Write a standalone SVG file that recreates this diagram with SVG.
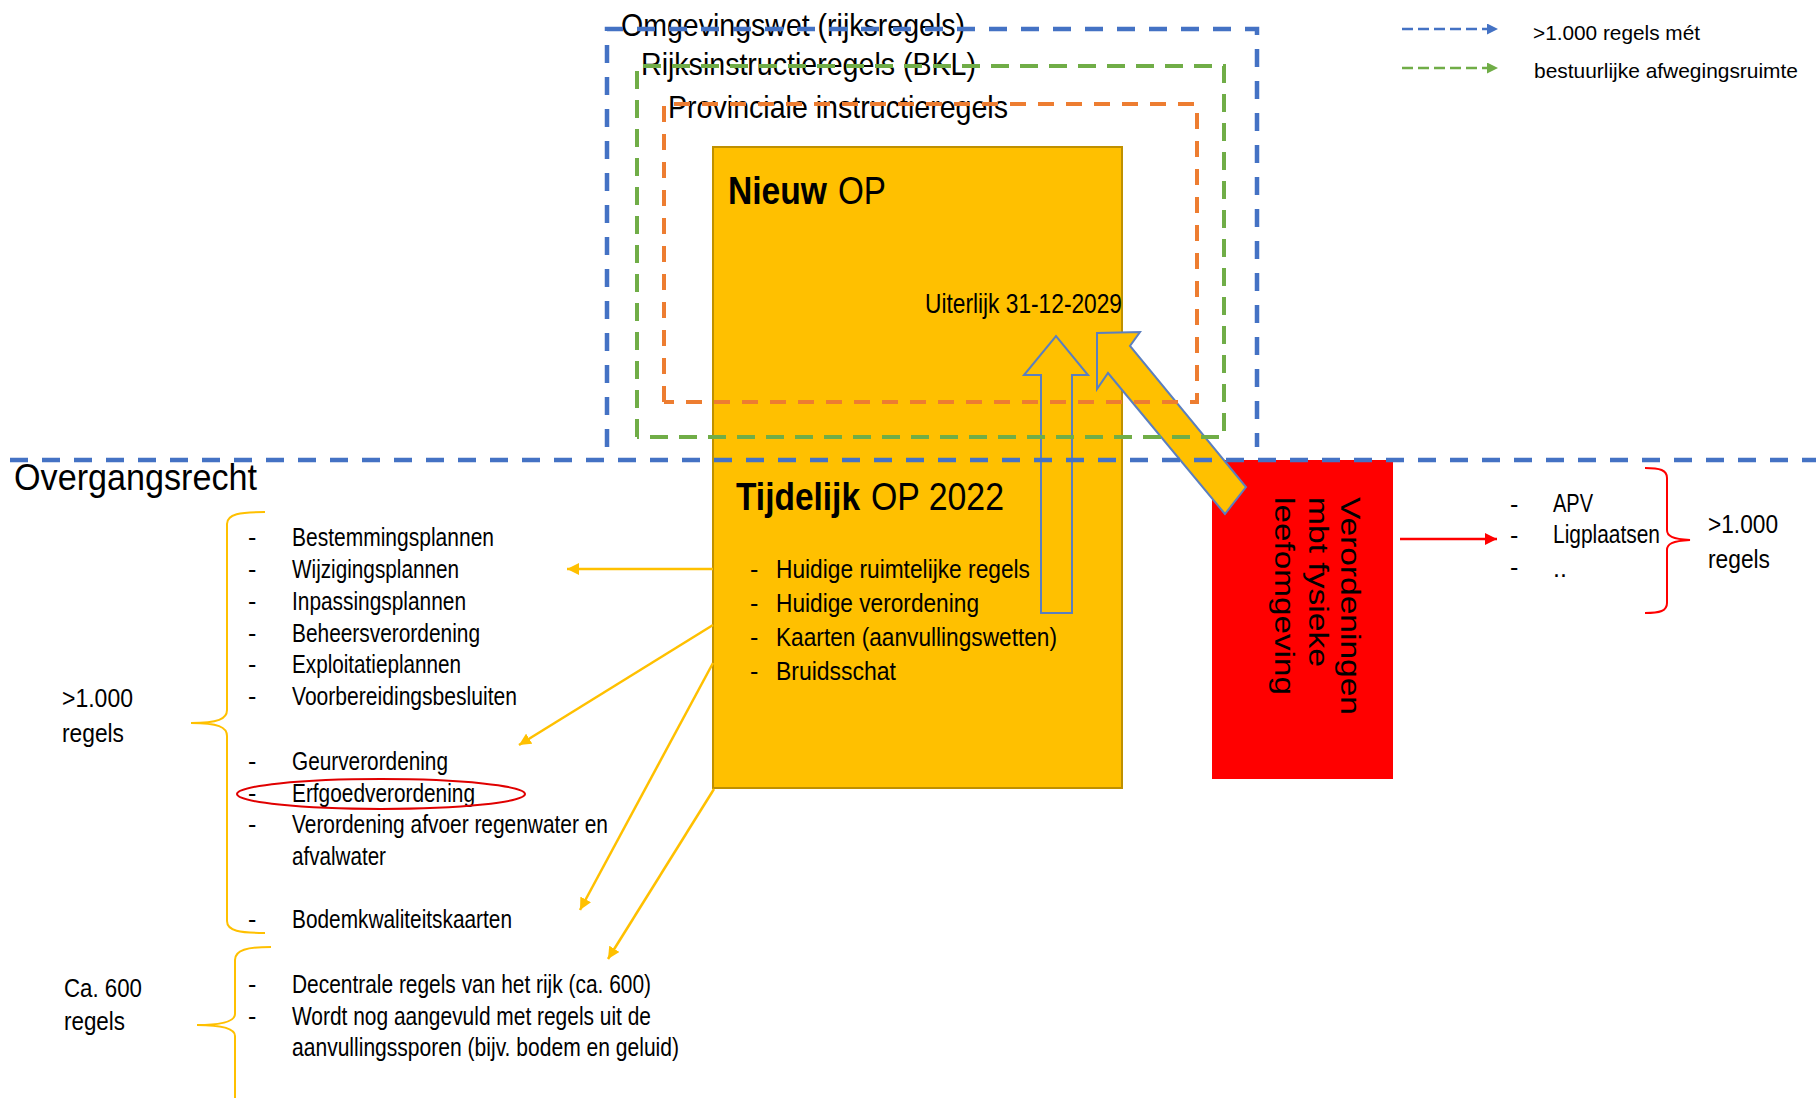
<svg xmlns="http://www.w3.org/2000/svg" width="1816" height="1098" viewBox="0 0 1816 1098">
<style>
.t{font-family:"Liberation Sans",Arial,Helvetica,sans-serif;fill:#000}
.s21{font-size:21px}.s25{font-size:25px}.s27{font-size:27px}.s28{font-size:28px}.s32{font-size:32px}.s36{font-size:36px}.s38{font-size:38px}.s39{font-size:39px}
.b{font-weight:bold}
.yl{stroke:#FFC000;stroke-width:2.5;fill:none}
.brace{fill:none;stroke-width:2}
.blk{fill:#FFC000;stroke:#5B7FBF;stroke-width:2;stroke-linejoin:miter}
.fb{fill:none;stroke:#4472C4;stroke-width:4.5;stroke-dasharray:18 14}
.fg{fill:none;stroke:#70AD47;stroke-width:4;stroke-dasharray:18 11}
.fo{fill:none;stroke:#ED7D31;stroke-width:4;stroke-dasharray:16 12}
</style>
<defs>
<marker id="ay" markerUnits="userSpaceOnUse" markerWidth="13" markerHeight="12" refX="12" refY="6" orient="auto"><path d="M0,0 L12,6 L0,12 z" fill="#FFC000"/></marker>
<marker id="ar" markerUnits="userSpaceOnUse" markerWidth="13" markerHeight="12" refX="12" refY="6" orient="auto"><path d="M0,0 L12,6 L0,12 z" fill="#FF0000"/></marker>
<marker id="ab" markerUnits="userSpaceOnUse" markerWidth="12" markerHeight="11" refX="11" refY="5.5" orient="auto"><path d="M0,0 L11,5.5 L0,11 z" fill="#4472C4"/></marker>
<marker id="ag" markerUnits="userSpaceOnUse" markerWidth="12" markerHeight="11" refX="11" refY="5.5" orient="auto"><path d="M0,0 L11,5.5 L0,11 z" fill="#70AD47"/></marker>
</defs>
<rect width="1816" height="1098" fill="#fff"/>

<g id="nieuw-op">
<rect x="713" y="147" width="409" height="641" fill="#FFC000" stroke="#BF9000" stroke-width="2"/>
<text class="t s38 b" x="728" y="204" textLength="99" lengthAdjust="spacingAndGlyphs">Nieuw</text>
<text class="t s38" x="838" y="204" textLength="48" lengthAdjust="spacingAndGlyphs">OP</text>
<text class="t s28" x="925" y="313" textLength="197" lengthAdjust="spacingAndGlyphs">Uiterlijk 31-12-2029</text>
</g>

<g id="verordeningen">
<rect x="1212" y="460" width="181" height="319" fill="#FF0000"/>
<text class="t s27" transform="translate(1341,497) rotate(90)" textLength="218" lengthAdjust="spacingAndGlyphs">Verordeningen</text>
<text class="t s27" transform="translate(1309,497) rotate(90)" textLength="170" lengthAdjust="spacingAndGlyphs">mbt fysieke</text>
<text class="t s27" transform="translate(1275,497) rotate(90)" textLength="198" lengthAdjust="spacingAndGlyphs">leefomgeving</text>
</g>

<g id="frame-labels">
<text class="t s32" x="621" y="36" textLength="344" lengthAdjust="spacingAndGlyphs">Omgevingswet (rijksregels)</text>
<text class="t s32" x="641" y="75" textLength="335" lengthAdjust="spacingAndGlyphs">Rijksinstructieregels (BKL)</text>
<text class="t s32" x="668" y="118" textLength="340" lengthAdjust="spacingAndGlyphs">Provinciale instructieregels</text>
</g>

<g id="connectors">
<polygon class="blk" points="1041,613 1041,375 1024,375 1056,336 1088,375 1072,375 1072,613"/>
<polygon class="blk" points="1225,514 1108,373 1097,389 1097,333 1140,332 1130,346 1246,487"/>
<line class="yl" x1="713" y1="569" x2="567" y2="569" marker-end="url(#ay)"/>
<line class="yl" x1="713" y1="625" x2="519" y2="745" marker-end="url(#ay)"/>
<line class="yl" x1="713" y1="663" x2="580" y2="910" marker-end="url(#ay)"/>
<line class="yl" x1="714" y1="789" x2="608" y2="959" marker-end="url(#ay)"/>
<line x1="1400" y1="539" x2="1497" y2="539" stroke="#FF0000" stroke-width="2.5" marker-end="url(#ar)"/>
</g>

<g id="frames">
<path class="fo" d="M664,402 V104 H1197 V402 H664"/>
<path class="fg" d="M637,437 V66 H1224 V437 H637"/>
<path class="fb" d="M607,447 V29 H1257 V447"/>
<line class="fb" x1="10" y1="460" x2="1816" y2="460"/>
</g>

<g id="tijdelijk-op">
<text class="t s39 b" x="736" y="510" textLength="124" lengthAdjust="spacingAndGlyphs">Tijdelijk</text>
<text class="t s39" x="871" y="510" textLength="133" lengthAdjust="spacingAndGlyphs">OP 2022</text>
<g class="t s25">
<text x="750" y="578">-</text><text x="776" y="578" textLength="254" lengthAdjust="spacingAndGlyphs">Huidige ruimtelijke regels</text>
<text x="750" y="612">-</text><text x="776" y="612" textLength="203" lengthAdjust="spacingAndGlyphs">Huidige verordening</text>
<text x="750" y="646">-</text><text x="776" y="646" textLength="281" lengthAdjust="spacingAndGlyphs">Kaarten (aanvullingswetten)</text>
<text x="750" y="680">-</text><text x="776" y="680" textLength="120" lengthAdjust="spacingAndGlyphs">Bruidsschat</text>
</g>
</g>

<g id="overgangsrecht">
<text class="t s36" x="14" y="490" textLength="243" lengthAdjust="spacingAndGlyphs">Overgangsrecht</text>
</g>

<g id="lijst-overgangsrecht" class="t s25">
<text x="248" y="546">-</text><text x="292" y="546" textLength="202" lengthAdjust="spacingAndGlyphs">Bestemmingsplannen</text>
<text x="248" y="578">-</text><text x="292" y="578" textLength="167" lengthAdjust="spacingAndGlyphs">Wijzigingsplannen</text>
<text x="248" y="610">-</text><text x="292" y="610" textLength="174" lengthAdjust="spacingAndGlyphs">Inpassingsplannen</text>
<text x="248" y="642">-</text><text x="292" y="642" textLength="188" lengthAdjust="spacingAndGlyphs">Beheersverordening</text>
<text x="248" y="673">-</text><text x="292" y="673" textLength="169" lengthAdjust="spacingAndGlyphs">Exploitatieplannen</text>
<text x="248" y="705">-</text><text x="292" y="705" textLength="225" lengthAdjust="spacingAndGlyphs">Voorbereidingsbesluiten</text>
<text x="248" y="770">-</text><text x="292" y="770" textLength="156" lengthAdjust="spacingAndGlyphs">Geurverordening</text>
<text x="248" y="802">-</text><text x="292" y="802" textLength="183" lengthAdjust="spacingAndGlyphs">Erfgoedverordening</text>
<text x="248" y="833">-</text><text x="292" y="833" textLength="316" lengthAdjust="spacingAndGlyphs">Verordening afvoer regenwater en</text>
<text x="292" y="865" textLength="94" lengthAdjust="spacingAndGlyphs">afvalwater</text>
<text x="248" y="928">-</text><text x="292" y="928" textLength="220" lengthAdjust="spacingAndGlyphs">Bodemkwaliteitskaarten</text>
<text x="248" y="993">-</text><text x="292" y="993" textLength="359" lengthAdjust="spacingAndGlyphs">Decentrale regels van het rijk (ca. 600)</text>
<text x="248" y="1025">-</text><text x="292" y="1025" textLength="359" lengthAdjust="spacingAndGlyphs">Wordt nog aangevuld met regels uit de</text>
<text x="292" y="1056" textLength="387" lengthAdjust="spacingAndGlyphs">aanvullingssporen (bijv. bodem en geluid)</text>
</g>

<ellipse id="markering-erfgoed" cx="381" cy="794" rx="144" ry="15" fill="none" stroke="#E00000" stroke-width="2"/>

<g id="aantallen-links" class="t s25">
<text x="62" y="707" textLength="71" lengthAdjust="spacingAndGlyphs">&gt;1.000</text>
<text x="62" y="742" textLength="62" lengthAdjust="spacingAndGlyphs">regels</text>
<text x="64" y="997" textLength="78" lengthAdjust="spacingAndGlyphs">Ca. 600</text>
<text x="64" y="1030" textLength="61" lengthAdjust="spacingAndGlyphs">regels</text>
</g>

<g id="accolades">
<path class="brace" stroke="#FFC000" d="M265,512 C240,512 227,514 227,524 L227,710 C227,719 218,723 191,723 C218,723 227,727 227,736 L227,921 C227,931 240,933 265,933"/>
<path class="brace" stroke="#FFC000" d="M271,947 C247,947 235,950 235,960 L235,1014 C235,1021 225,1025 197,1025 C225,1025 235,1029 235,1036 L235,1100"/>
<path class="brace" stroke="#FF0000" d="M1645,468 C1660,468 1667,470 1667,478 L1667,530 C1667,536 1672,539 1690,540 C1672,541 1667,544 1667,550 L1667,603 C1667,611 1660,613 1645,613"/>
</g>

<g id="lijst-apv" class="t s25">
<text x="1510" y="513">-</text><text x="1553" y="512" textLength="40" lengthAdjust="spacingAndGlyphs">APV</text>
<text x="1510" y="544">-</text><text x="1553" y="543" textLength="107" lengthAdjust="spacingAndGlyphs">Ligplaatsen</text>
<text x="1510" y="576">-</text><text x="1553" y="577">..</text>
<text x="1708" y="533" textLength="70" lengthAdjust="spacingAndGlyphs">&gt;1.000</text>
<text x="1708" y="568" textLength="62" lengthAdjust="spacingAndGlyphs">regels</text>
</g>

<g id="legenda">
<line x1="1402" y1="29" x2="1498" y2="29" stroke="#4472C4" stroke-width="2.5" stroke-dasharray="11 5" marker-end="url(#ab)"/>
<line x1="1402" y1="68" x2="1498" y2="68" stroke="#70AD47" stroke-width="2.5" stroke-dasharray="11 5" marker-end="url(#ag)"/>
<text class="t s21" x="1533" y="40" textLength="167" lengthAdjust="spacingAndGlyphs">&gt;1.000 regels mét</text>
<text class="t s21" x="1534" y="78" textLength="264" lengthAdjust="spacingAndGlyphs">bestuurlijke afwegingsruimte</text>
</g>
</svg>
